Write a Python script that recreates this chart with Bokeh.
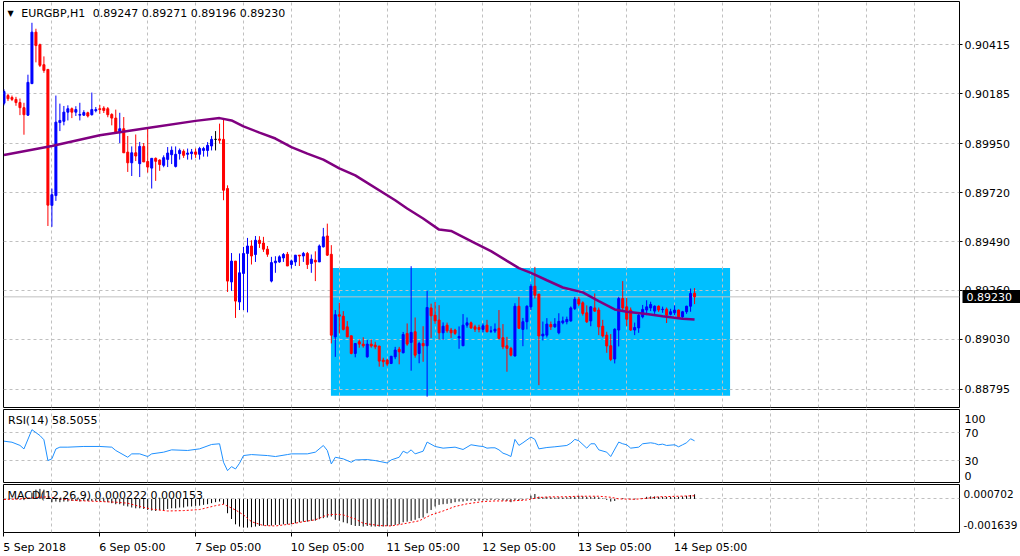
from bokeh.plotting import figure
from bokeh.layouts import column
from bokeh.models import Range1d, FixedTicker, Label, Span, PrintfTickFormatter, LinearAxis
from bokeh.embed import file_html
from bokeh.resources import INLINE

# ---------------- data ----------------
symbol = "EURGBP,H1"

opens = [
    0.90140, 0.90176, 0.90167, 0.90158, 0.90143, 0.90119, 0.90084, 0.90232, 0.90474, 0.90415,
    0.90321, 0.90299, 0.89660, 0.89706, 0.90049, 0.90055, 0.90098, 0.90114, 0.90098, 0.90084,
    0.90084, 0.90095, 0.90086, 0.90105, 0.90114, 0.90117, 0.90114, 0.90087, 0.90070, 0.90002,
    0.90020, 0.89910, 0.89860, 0.89907, 0.89856, 0.89937, 0.89866, 0.89835, 0.89881, 0.89873,
    0.89848, 0.89876, 0.89898, 0.89843, 0.89903, 0.89914, 0.89900, 0.89903, 0.89911, 0.89900,
    0.89918, 0.89918, 0.89939, 0.89970, 0.89972, 0.89970, 0.89739, 0.89300, 0.89398, 0.89206,
    0.89340, 0.89434, 0.89469, 0.89429, 0.89496, 0.89483, 0.89454, 0.89304, 0.89390, 0.89394,
    0.89413, 0.89430, 0.89382, 0.89394, 0.89426, 0.89422, 0.89434, 0.89387, 0.89402, 0.89394,
    0.89465, 0.89516, 0.89430, 0.89042, 0.89146, 0.89139, 0.89089, 0.89047, 0.88964, 0.89019,
    0.89008, 0.88948, 0.89008, 0.89003, 0.88999, 0.88933, 0.88933, 0.88917, 0.88948, 0.88984,
    0.88967, 0.89058, 0.89016, 0.89066, 0.88964, 0.89011, 0.89000, 0.89178, 0.89144, 0.89121,
    0.89061, 0.89097, 0.89074, 0.89074, 0.89037, 0.89000, 0.89097, 0.89108, 0.89089, 0.89086,
    0.89077, 0.89097, 0.89068, 0.89069, 0.89082, 0.89038, 0.89000, 0.88988, 0.88952, 0.89186,
    0.89077, 0.89113, 0.89183, 0.89280, 0.89243, 0.89046, 0.89050, 0.89100, 0.89089, 0.89061,
    0.89108, 0.89113, 0.89117, 0.89175, 0.89219, 0.89202, 0.89155, 0.89117, 0.89178, 0.89168,
    0.89092, 0.89050, 0.89000, 0.88938, 0.89074, 0.89222, 0.89183, 0.89168, 0.89074, 0.89084,
    0.89136, 0.89168, 0.89178, 0.89163, 0.89186, 0.89170, 0.89172, 0.89148, 0.89155, 0.89168,
    0.89136, 0.89160, 0.89186, 0.89247]

highs = [
    0.90205, 0.90185, 0.90176, 0.90170, 0.90162, 0.90142, 0.90274, 0.90518, 0.90490, 0.90420,
    0.90360, 0.90299, 0.89739, 0.90176, 0.90138, 0.90127, 0.90130, 0.90120, 0.90126, 0.90142,
    0.90107, 0.90100, 0.90190, 0.90122, 0.90132, 0.90126, 0.90122, 0.90093, 0.90110, 0.90095,
    0.90075, 0.89986, 0.89937, 0.89993, 0.89958, 0.89953, 0.90023, 0.89881, 0.89885, 0.89876,
    0.89895, 0.89934, 0.89937, 0.89937, 0.89927, 0.89923, 0.89927, 0.89925, 0.89927, 0.89935,
    0.89935, 0.89957, 0.89986, 0.90009, 0.90044, 0.90067, 0.89754, 0.89436, 0.89398, 0.89434,
    0.89465, 0.89507, 0.89496, 0.89516, 0.89515, 0.89512, 0.89469, 0.89418, 0.89421, 0.89425,
    0.89436, 0.89441, 0.89405, 0.89426, 0.89426, 0.89441, 0.89441, 0.89429, 0.89444, 0.89476,
    0.89554, 0.89574, 0.89473, 0.89168, 0.89202, 0.89163, 0.89116, 0.89047, 0.89011, 0.89030,
    0.89040, 0.89027, 0.89030, 0.89019, 0.88999, 0.88944, 0.88939, 0.88951, 0.88995, 0.88995,
    0.89065, 0.89105, 0.89374, 0.89133, 0.89019, 0.89092, 0.89258, 0.89198, 0.89206, 0.89191,
    0.89110, 0.89109, 0.89084, 0.89080, 0.89091, 0.89149, 0.89133, 0.89114, 0.89099, 0.89099,
    0.89105, 0.89122, 0.89092, 0.89105, 0.89168, 0.89102, 0.89042, 0.88995, 0.89200, 0.89230,
    0.89131, 0.89190, 0.89290, 0.89371, 0.89243, 0.89114, 0.89130, 0.89114, 0.89130, 0.89153,
    0.89137, 0.89137, 0.89185, 0.89230, 0.89230, 0.89209, 0.89190, 0.89187, 0.89246, 0.89180,
    0.89122, 0.89066, 0.89055, 0.89082, 0.89230, 0.89304, 0.89225, 0.89180, 0.89109, 0.89152,
    0.89192, 0.89214, 0.89207, 0.89190, 0.89190, 0.89184, 0.89180, 0.89174, 0.89190, 0.89170,
    0.89164, 0.89188, 0.89269, 0.89271]

lows = [
    0.90130, 0.90150, 0.90150, 0.90128, 0.90084, 0.89992, 0.90080, 0.90230, 0.90332, 0.90310,
    0.90283, 0.89563, 0.89559, 0.89681, 0.90009, 0.90036, 0.90059, 0.90070, 0.90080, 0.90059,
    0.90080, 0.90073, 0.90082, 0.90097, 0.90090, 0.90094, 0.90074, 0.90036, 0.89996, 0.89953,
    0.89907, 0.89817, 0.89798, 0.89868, 0.89793, 0.89864, 0.89814, 0.89739, 0.89775, 0.89822,
    0.89839, 0.89840, 0.89854, 0.89838, 0.89875, 0.89883, 0.89875, 0.89875, 0.89883, 0.89875,
    0.89889, 0.89889, 0.89918, 0.89918, 0.89950, 0.89684, 0.89253, 0.89258, 0.89131, 0.89168,
    0.89168, 0.89157, 0.89382, 0.89394, 0.89460, 0.89441, 0.89418, 0.89298, 0.89343, 0.89390,
    0.89394, 0.89375, 0.89363, 0.89375, 0.89375, 0.89394, 0.89361, 0.89343, 0.89304, 0.89394,
    0.89462, 0.89422, 0.89011, 0.88948, 0.89058, 0.89072, 0.89040, 0.88960, 0.88946, 0.88991,
    0.88991, 0.88944, 0.88991, 0.88984, 0.88902, 0.88901, 0.88904, 0.88914, 0.88937, 0.88913,
    0.88965, 0.89000, 0.88883, 0.88944, 0.88918, 0.88925, 0.88761, 0.89037, 0.89103, 0.89030,
    0.89028, 0.89061, 0.89037, 0.89051, 0.88986, 0.89000, 0.89085, 0.89080, 0.89065, 0.89063,
    0.89063, 0.89063, 0.89060, 0.89060, 0.89030, 0.88984, 0.88878, 0.88950, 0.88950, 0.89082,
    0.88998, 0.89077, 0.89168, 0.89222, 0.88815, 0.89025, 0.89039, 0.89074, 0.89085, 0.89054,
    0.89101, 0.89101, 0.89113, 0.89168, 0.89186, 0.89142, 0.89107, 0.89092, 0.89159, 0.89050,
    0.89039, 0.88967, 0.88928, 0.88917, 0.88997, 0.89168, 0.89092, 0.89070, 0.89050, 0.89061,
    0.89129, 0.89144, 0.89163, 0.89150, 0.89159, 0.89155, 0.89107, 0.89143, 0.89143, 0.89129,
    0.89131, 0.89150, 0.89160, 0.89196]

closes = [
    0.90195, 0.90161, 0.90158, 0.90143, 0.90119, 0.90086, 0.90238, 0.90474, 0.90411, 0.90318,
    0.90294, 0.89661, 0.89710, 0.90051, 0.90059, 0.90098, 0.90114, 0.90098, 0.90110, 0.90087,
    0.90096, 0.90080, 0.90110, 0.90110, 0.90110, 0.90106, 0.90086, 0.90070, 0.90002, 0.90020,
    0.89907, 0.89860, 0.89907, 0.89892, 0.89937, 0.89864, 0.89840, 0.89881, 0.89867, 0.89852,
    0.89884, 0.89906, 0.89919, 0.89900, 0.89918, 0.89895, 0.89906, 0.89911, 0.89900, 0.89927,
    0.89927, 0.89942, 0.89970, 0.89970, 0.89966, 0.89731, 0.89304, 0.89398, 0.89210, 0.89343,
    0.89434, 0.89469, 0.89422, 0.89496, 0.89481, 0.89454, 0.89430, 0.89391, 0.89398, 0.89418,
    0.89429, 0.89375, 0.89399, 0.89426, 0.89422, 0.89434, 0.89382, 0.89407, 0.89394, 0.89469,
    0.89512, 0.89426, 0.89050, 0.89146, 0.89139, 0.89077, 0.89042, 0.88964, 0.89011, 0.89008,
    0.89000, 0.89008, 0.88999, 0.88995, 0.88928, 0.88925, 0.88914, 0.88951, 0.88980, 0.88972,
    0.89053, 0.89008, 0.89063, 0.88956, 0.89011, 0.89000, 0.89180, 0.89141, 0.89117, 0.89061,
    0.89092, 0.89070, 0.89061, 0.89058, 0.89044, 0.89097, 0.89108, 0.89084, 0.89078, 0.89077,
    0.89094, 0.89066, 0.89070, 0.89078, 0.89035, 0.88995, 0.88988, 0.88956, 0.89186, 0.89082,
    0.89113, 0.89186, 0.89280, 0.89238, 0.89046, 0.89055, 0.89102, 0.89089, 0.89102, 0.89115,
    0.89117, 0.89124, 0.89178, 0.89219, 0.89196, 0.89152, 0.89113, 0.89183, 0.89163, 0.89089,
    0.89046, 0.88999, 0.88936, 0.89078, 0.89222, 0.89178, 0.89125, 0.89074, 0.89086, 0.89144,
    0.89171, 0.89183, 0.89194, 0.89186, 0.89168, 0.89172, 0.89144, 0.89160, 0.89168, 0.89136,
    0.89160, 0.89186, 0.89246, 0.89230]

price_ticks = [0.90415, 0.90185, 0.89950, 0.89720, 0.89490, 0.89260, 0.89030, 0.88795]
price_range = (0.88710, 0.90618)

x_label_bars = [0, 24, 48, 72, 96, 120, 144, 168]
x_labels = ["5 Sep 2018", "6 Sep 05:00", "7 Sep 05:00", "10 Sep 05:00",
            "11 Sep 05:00", "12 Sep 05:00", "13 Sep 05:00", "14 Sep 05:00"]

# moving average at selected bars
sma_bars = [0, 12, 24, 36, 48, 54, 57, 60, 64, 68, 72, 76, 80, 84, 88, 98, 101, 105, 109, 112,
            118, 122, 126, 129, 132, 136, 140, 145, 149, 153, 156, 161, 165, 170, 173]
sma_vals = [0.89897, 0.89939, 0.89989, 0.90023, 0.90057, 0.90070, 0.90059, 0.90031, 0.90002, 0.89974,
            0.89934, 0.89903, 0.89875, 0.89834, 0.89801, 0.89684, 0.89645, 0.89598, 0.89546, 0.89540,
            0.89483, 0.89445, 0.89399, 0.89365, 0.89343, 0.89308, 0.89274, 0.89251, 0.89210, 0.89171,
            0.89160, 0.89149, 0.89139, 0.89127, 0.89124]

# highlighted range box (bars, prices)
zone_bars = [81.9, 181.9]
zone_prices = [0.88765, 0.89365]

# RSI(14)
rsi_period = 14
rsi_bars = [0, 2, 4, 5, 7, 9, 10, 11, 12, 13, 14, 16, 20, 24, 27, 28, 31, 32, 34, 36,
            37, 40, 42, 46, 49, 52, 54, 55, 56, 57, 58, 59, 60, 62, 66, 68, 71, 72, 76, 78,
            80, 81, 82, 83, 85, 87, 88, 91, 93, 96, 97, 99, 100, 101, 102, 103, 105, 106, 108, 110,
            113, 115, 117, 119, 120, 121, 122, 123, 124, 125, 126, 127, 128, 129, 130, 132, 133, 134, 136, 138,
            141, 142, 143, 144, 146, 147, 148, 149, 151, 152, 154, 155, 156, 157, 159, 160, 162, 163, 164, 165,
            166, 168, 169, 170, 171, 172, 173]
rsi_vals = [58.0, 56.5, 52.0, 47.0, 74.3, 66.0, 60.0, 30.5, 33.0, 47.0,
            49.5, 49.5, 50.5, 50.5, 49.5, 44.8, 35.2, 40.0, 40.0, 36.2,
            40.0, 42.4, 45.7, 44.8, 47.1, 53.3, 54.3, 28.1, 16.2, 21.9,
            18.6, 26.7, 37.6, 39.0, 37.6, 36.2, 39.0, 40.0, 40.0, 42.4,
            51.9, 44.8, 25.7, 35.2, 32.9, 28.1, 31.4, 31.9, 30.5, 27.1,
            31.4, 35.2, 43.8, 41.0, 45.7, 40.0, 43.8, 56.7, 50.5, 48.1,
            49.5, 46.2, 52.9, 51.0, 50.5, 48.1, 48.6, 48.6, 45.7, 41.0,
            39.0, 36.2, 60.5, 52.0, 55.7, 63.8, 60.5, 47.1, 49.0, 50.0,
            51.9, 55.2, 60.5, 58.6, 48.1, 54.3, 54.3, 45.7, 42.4, 36.2,
            56.7, 54.3, 52.9, 48.1, 49.5, 54.3, 55.7, 54.8, 52.9, 53.8,
            51.9, 52.9, 50.0, 52.9, 55.7, 61.4, 58.5055]
rsi_levels = [70, 30]
rsi_range = (-0.6, 102.9)

# MACD(12,26,9): main line as histogram (one value per bar), signal line read at selected bars
macd_params = (12, 26, 9)
macd_hist = [
    -0.00003, -0.00002, -0.00002, -0.00003, -0.00004, -0.00006, 0.00005, 0.00030, 0.00045, 0.00049,
    0.00045, 0.00002, -0.00016, -0.00013, -0.00016, -0.00013, -0.00013, -0.00010, -0.00010, -0.00013,
    -0.00010, -0.00010, -0.00010, -0.00010, -0.00010, -0.00013, -0.00016, -0.00021, -0.00026, -0.00026,
    -0.00033, -0.00037, -0.00042, -0.00046, -0.00046, -0.00049, -0.00054, -0.00057, -0.00059, -0.00055,
    -0.00054, -0.00049, -0.00046, -0.00046, -0.00042, -0.00042, -0.00037, -0.00037, -0.00034, -0.00033,
    -0.00029, -0.00026, -0.00021, -0.00016, -0.00013, -0.00026, -0.00070, -0.00098, -0.00124, -0.00135,
    -0.00140, -0.00140, -0.00138, -0.00135, -0.00132, -0.00130, -0.00130, -0.00130, -0.00127, -0.00127,
    -0.00124, -0.00124, -0.00122, -0.00119, -0.00114, -0.00111, -0.00111, -0.00107, -0.00106, -0.00099,
    -0.00094, -0.00091, -0.00086, -0.00102, -0.00107, -0.00114, -0.00119, -0.00127, -0.00132, -0.00132,
    -0.00135, -0.00132, -0.00135, -0.00135, -0.00135, -0.00135, -0.00132, -0.00132, -0.00127, -0.00124,
    -0.00114, -0.00111, -0.00107, -0.00102, -0.00094, -0.00091, -0.00070, -0.00054, -0.00037, -0.00029,
    -0.00026, -0.00024, -0.00021, -0.00016, -0.00013, -0.00013, -0.00010, -0.00008, -0.00010, -0.00008,
    -0.00007, -0.00007, -0.00005, -0.00005, -0.00005, -0.00008, -0.00010, -0.00016, -0.00007, -0.00008,
    -0.00005, 0.00000, 0.00016, 0.00024, 0.00011, 0.00008, 0.00010, 0.00008, 0.00007, 0.00008,
    0.00007, 0.00008, 0.00010, 0.00011, 0.00015, 0.00013, 0.00010, 0.00010, 0.00011, 0.00008,
    0.00003, -0.00005, -0.00013, -0.00010, 0.00000, 0.00003, 0.00000, -0.00002, -0.00003, 0.00000,
    0.00003, 0.00010, 0.00012, 0.00012, 0.00010, 0.00010, 0.00009, 0.00010, 0.00009, 0.00010,
    0.00012, 0.00015, 0.00019, 0.000222]
signal_bars = [0, 4, 8, 11, 14, 18, 28, 31, 34, 37, 41, 45, 49, 53, 55, 58, 60, 62, 65, 68,
               72, 75, 78, 81, 83, 85, 88, 90, 94, 97, 100, 104, 107, 110, 113, 116, 120, 123, 127, 131,
               134, 137, 140, 144, 149, 152, 154, 158, 161, 164, 169, 173]
signal_vals = [-0.00003, 0.0, 0.00007, 0.0001, 0.0, -0.00008, -0.00016, -0.00021, -0.00037, -0.0005,
               -0.00059, -0.00057, -0.00052, -0.00033, -0.00026, -0.00054, -0.00078, -0.00111, -0.0013, -0.00132,
               -0.00122, -0.00111, -0.00102, -0.00078, -0.00075, -0.00078, -0.00098, -0.00119, -0.0013, -0.00132,
               -0.00122, -0.00107, -0.00078, -0.00059, -0.00037, -0.00024, -0.00013, -0.0001, -0.0001, -0.00005,
               0.00007, 0.0001, 0.0001, 0.00013, 0.00013, 0.00008, 0.0, -0.00002, 0.00003, 0.0001,
               0.00013, 0.000153]
macd_range = (-0.001639, 0.000702)

# ---------------- styling / layout ----------------
FONT = "DejaVu Sans"
FS = "11px"
BULL, BEAR, DOJI = "#0000ff", "#ff0000", "#000000"
GRID = "#c0c0c0"
PX_PER_BAR = 4
PAGE_W = 1020
LEFT_W = 3
FRAME_W = 958
RIGHT_W = PAGE_W - LEFT_W - FRAME_W
MAIN_H, MAIN_TOP, MAIN_BOTTOM = 409, 1, 2
RSI_H, MACD_H, MACD_BOTTOM = 75, 72, 24
TAG_H = 13            # height of the current-price tag on the price scale
PRICE_AXIS_W = 50     # width taken by the price scale (tick 3 + standoff 2 + label)
TAG_OUT = RIGHT_W - PRICE_AXIS_W

n = len(closes)
bars = list(range(n))
colors = [BULL if c > o else (BEAR if c < o else DOJI) for o, c in zip(opens, closes)]
body_top = [max(o, c) for o, c in zip(opens, closes)]
body_bot = [min(o, c) for o, c in zip(opens, closes)]

x0 = -0.125
xr = Range1d(x0, x0 + FRAME_W / PX_PER_BAR)
vgrid = [b for b in range(12, int(xr.end) + 1, 12) if b < xr.end]


def make_panel(height, yr, top, bottom, with_x_axis=False):
    p = figure(width=PAGE_W, height=height, x_range=xr, y_range=yr,
               output_backend="svg", toolbar_location=None,
               y_axis_location="right",
               x_axis_location="below" if with_x_axis else None,
               min_border_left=LEFT_W, min_border_right=RIGHT_W,
               min_border_top=top, min_border_bottom=bottom,
               outline_line_color="black", outline_line_width=1,
               background_fill_color="white", border_fill_color="white")
    p.xgrid.ticker = FixedTicker(ticks=vgrid)
    for g in (p.xgrid, p.ygrid):
        g.grid_line_color = GRID
        g.grid_line_dash = "3 3"
        g.grid_line_width = 1
    ax = p.yaxis[0]
    ax.axis_line_color = None
    ax.major_tick_out = 3
    ax.major_tick_in = 0
    ax.minor_tick_line_color = None
    ax.major_tick_line_color = "black"
    ax.major_label_standoff = 2
    ax.major_label_text_font = FONT
    ax.major_label_text_font_size = FS
    ax.major_label_text_color = "black"
    return p


# ---------- main price panel ----------
main = make_panel(MAIN_H, Range1d(*price_range), MAIN_TOP, MAIN_BOTTOM)
main.ygrid.ticker = FixedTicker(ticks=price_ticks)
price_axis = main.yaxis[0]
price_axis.ticker = FixedTicker(ticks=price_ticks)
price_axis.formatter = PrintfTickFormatter(format="%.5f")

# current-price tag: one extra scale placed after the price scale; its single tick is drawn
# back over the price scale as a thick black bar, and its white label sits on that bar
last = closes[-1]
tag_axis = LinearAxis(ticker=FixedTicker(ticks=[last]), major_label_overrides={last: f"{last:.5f}"},
                      axis_line_color=None, minor_tick_line_color=None,
                      major_tick_line_color="black", major_tick_line_width=TAG_H,
                      major_tick_in=PRICE_AXIS_W, major_tick_out=TAG_OUT,
                      major_label_standoff=-(TAG_OUT + PRICE_AXIS_W - 4),
                      major_label_text_font=FONT, major_label_text_font_size=FS,
                      major_label_text_color="white")
main.right = [price_axis, tag_axis]

main.quad(left=[zone_bars[0]], right=[zone_bars[1]], bottom=[zone_prices[0]], top=[zone_prices[1]],
          fill_color="#00bfff", line_color=None, level="image")
main.add_layout(Span(location=last, dimension="width", line_color=GRID,
                     line_width=1, level="underlay"))
main.segment(x0=bars, y0=lows, x1=bars, y1=highs, line_color=colors, line_width=1)
main.vbar(x=bars, width=0.5, top=body_top, bottom=body_bot,
          fill_color=colors, line_color=colors, line_width=1)
main.line(sma_bars, sma_vals, line_color="#800080", line_width=2.5)

frame_h = MAIN_H - MAIN_TOP - MAIN_BOTTOM
hdr_y = frame_h - 11.7
main.add_layout(Label(x=4, y=hdr_y, x_units="screen", y_units="screen", text="\u25bc",
                      text_font=FONT, text_font_size="8px", text_color="black",
                      text_baseline="middle"))
main.add_layout(Label(x=17.7, y=hdr_y, x_units="screen", y_units="screen", text=symbol,
                      text_font=FONT, text_font_size=FS, text_color="black",
                      text_baseline="middle"))
main.add_layout(Label(x=89.3, y=hdr_y, x_units="screen", y_units="screen",
                      text=f"{opens[-1]:.5f} {highs[-1]:.5f} {lows[-1]:.5f} {closes[-1]:.5f}",
                      text_font=FONT, text_font_size=FS, text_color="black",
                      text_baseline="middle"))

# ---------- RSI panel ----------
rsi = make_panel(RSI_H, Range1d(*rsi_range), 0, 2)
rsi.ygrid.ticker = FixedTicker(ticks=rsi_levels)
span_rsi = rsi_range[1] - rsi_range[0]
rsi_tick_pos = [100 - 0.1 * span_rsi, 70, 30, 0 + 0.09 * span_rsi]
rsi.yaxis.ticker = FixedTicker(ticks=rsi_tick_pos)
rsi.yaxis.major_label_overrides = {rsi_tick_pos[0]: "100", 70: "70", 30: "30", rsi_tick_pos[3]: "0"}
rsi.yaxis.major_tick_line_color = None
rsi.line(rsi_bars, rsi_vals, line_color="#1e90ff", line_width=1)
rsi.add_layout(Label(x=4.5, y=62, x_units="screen", y_units="screen",
                     text=f"RSI({rsi_period}) {rsi_vals[-1]:.4f}",
                     text_font=FONT, text_font_size=FS, text_color="black",
                     text_baseline="middle"))

# ---------- MACD panel ----------
macd = make_panel(MACD_H, Range1d(*macd_range), 0, MACD_BOTTOM, with_x_axis=True)
macd.ygrid.ticker = FixedTicker(ticks=[0])
span_m = macd_range[1] - macd_range[0]
macd_tick_pos = [round(macd_range[1] - 0.2 * span_m, 7), round(macd_range[0] + 0.15 * span_m, 7)]
macd.yaxis.ticker = FixedTicker(ticks=macd_tick_pos)
macd.yaxis.major_label_overrides = {macd_tick_pos[0]: f"{macd_range[1]:.6f}",
                                    macd_tick_pos[1]: f"{macd_range[0]:.6f}"}
macd.yaxis.major_label_text_font_size = "10.5px"
macd.yaxis.major_tick_line_color = None
macd.yaxis.major_tick_out = 2
macd.yaxis.major_label_standoff = 2
macd.segment(x0=bars, y0=[0] * n, x1=bars, y1=macd_hist, line_color="black", line_width=1)
macd.line(signal_bars, signal_vals, line_color="#ff0000", line_width=1, line_dash="2 2")
macd.add_layout(Label(x=4, y=37, x_units="screen", y_units="screen",
                      text=f"MACD({macd_params[0]},{macd_params[1]},{macd_params[2]}) "
                           f"{macd_hist[-1]:.6f} {signal_vals[-1]:.6f}",
                      text_font=FONT, text_font_size=FS, text_color="black",
                      text_baseline="middle"))

# x axis: labels start at their bar (left aligned like the terminal)
CHAR_W = {" ": 0.318, "S": 0.635, "e": 0.615, "p": 0.635, ":": 0.337}


def text_width(s, size=11):
    return sum(CHAR_W.get(ch, 0.636) for ch in s) * size


label_pos = [round(b + (text_width(t) / 2 - 0.6) / PX_PER_BAR, 3) for b, t in zip(x_label_bars, x_labels)]
xa = macd.xaxis[0]
xa.ticker = FixedTicker(ticks=label_pos, minor_ticks=x_label_bars)
xa.major_label_overrides = {pos: t for pos, t in zip(label_pos, x_labels)}
xa.axis_line_color = None
xa.major_tick_line_color = None
xa.major_tick_out = 0
xa.major_tick_in = 0
xa.minor_tick_line_color = "black"
xa.minor_tick_out = 4
xa.minor_tick_in = 0
xa.major_label_standoff = 4
xa.major_label_text_font = FONT
xa.major_label_text_font_size = FS
xa.major_label_text_color = "black"

layout = column(main, rsi, macd, spacing=0)
open("out.html", "w").write(file_html(layout, INLINE))
